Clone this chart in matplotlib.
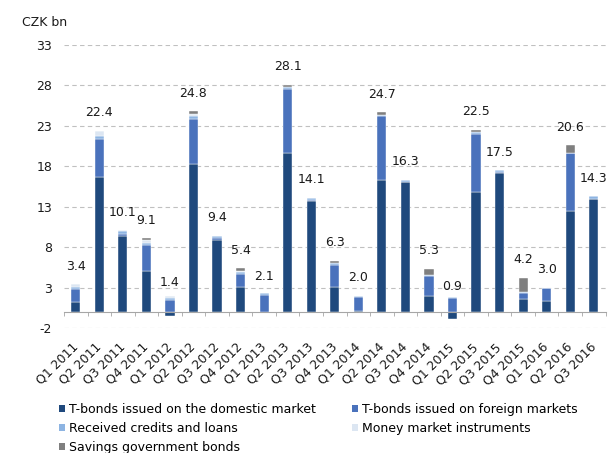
import numpy as np
import matplotlib.pyplot as plt
from matplotlib.patches import Patch
from matplotlib.ticker import FixedLocator

# Quarters shown on the x axis
quarters = ['Q1 2011', 'Q2 2011', 'Q3 2011', 'Q4 2011',
            'Q1 2012', 'Q2 2012', 'Q3 2012', 'Q4 2012',
            'Q1 2013', 'Q2 2013', 'Q3 2013', 'Q4 2013',
            'Q1 2014', 'Q2 2014', 'Q3 2014', 'Q4 2014',
            'Q1 2015', 'Q2 2015', 'Q3 2015', 'Q4 2015',
            'Q1 2016', 'Q2 2016', 'Q3 2016']

# Components (CZK bn)
domestic = [1.2, 16.7, 9.4, 5.1, -0.5, 18.3, 8.85, 3.1, -0.2, 19.7, 13.7, 3.1,
            0.15, 16.3, 16.0, 2.0, -0.9, 14.8, 17.2, 1.6, 1.35, 12.5, 14.0]
foreign = [1.65, 4.7, 0.25, 3.2, 1.45, 5.6, 0.25, 1.6, 2.05, 7.8, 0.1, 2.65,
           1.65, 7.9, 0.05, 2.45, 1.65, 7.2, 0.05, 0.75, 1.6, 7.1, 0.0]
received = [0.25, 0.35, 0.3, 0.25, 0.3, 0.35, 0.25, 0.2, 0.25, 0.3, 0.3, 0.25,
            0.2, 0.2, 0.25, 0.15, 0.15, 0.2, 0.25, 0.15, 0.05, 0.1, 0.3]
money = [0.3, 0.65, 0.15, 0.3, 0.15, 0.25, 0.05, 0.15, 0.0, 0.05, 0.0, 0.0,
         0.0, 0.0, 0.0, 0.0, 0.0, 0.0, 0.0, 0.0, 0.0, 0.0, 0.0]
savings = [0.0, 0.0, 0.0, 0.25, 0.0, 0.3, 0.0, 0.35, 0.0, 0.25, 0.0, 0.3,
           0.0, 0.3, 0.0, 0.7, 0.0, 0.3, 0.0, 1.7, 0.0, 0.9, 0.0]

# Totals printed above the bars
totals = [3.4, 22.4, 10.1, 9.1, 1.4, 24.8, 9.4, 5.4, 2.1, 28.1, 14.1, 6.3,
          2.0, 24.7, 16.3, 5.3, 0.9, 22.5, 17.5, 4.2, 3.0, 20.6, 14.3]

series = [
    ('T-bonds issued on the domestic market', domestic, '#1f497d'),
    ('T-bonds issued on foreign markets', foreign, '#4a72bc'),
    ('Received credits and loans', received, '#8db4e2'),
    ('Money market instruments', money, '#dce6f2'),
    ('Savings government bonds', savings, '#7f7f7f'),
]

plt.rcParams['font.family'] = 'DejaVu Sans'
plt.rcParams['axes.unicode_minus'] = False

fig = plt.figure(figsize=(6.09, 4.53), dpi=100)
ax = fig.add_axes([64 / 609, 1 - 328 / 453, 541.5 / 609, 283 / 453])

x = np.arange(len(quarters))
pos_bottom = np.zeros(len(quarters))
neg_bottom = np.zeros(len(quarters))
for name, vals, color in series:
    vals = np.array(vals)
    bottom = np.where(vals >= 0, pos_bottom, neg_bottom)
    ax.bar(x, vals, width=0.39, bottom=bottom, color=color,
           edgecolor='white', linewidth=0.3, zorder=3)
    pos_bottom += np.where(vals >= 0, vals, 0)
    neg_bottom += np.where(vals < 0, vals, 0)

# Value labels
for xi, t in zip(x, totals):
    ax.annotate(f'{t:.1f}', xy=(xi, t), xytext=(0, 13), textcoords='offset points',
                ha='center', va='center', fontsize=9, color='#1a1a1a')

ax.set_xlim(-0.5, len(quarters) - 0.5)
ax.set_ylim(-2, 33)
ax.set_yticks(np.arange(-2, 34, 5))
ax.yaxis.grid(True, linestyle=(0, (4, 3)), color='#c0c0c0', linewidth=0.8)
ax.set_axisbelow(True)

for side in ['top', 'right', 'left']:
    ax.spines[side].set_visible(False)
ax.spines['bottom'].set_position(('data', 0))
ax.spines['bottom'].set_color('#a6a6a6')
ax.spines['bottom'].set_zorder(4)

ax.set_xticks(x)
ax.set_xticklabels(quarters, rotation=45, ha='right', va='center',
                   rotation_mode='anchor', fontsize=9, color='#1a1a1a')
ax.xaxis.set_minor_locator(FixedLocator(np.arange(-0.5, len(quarters), 1)))
ax.tick_params(axis='x', which='major', length=0, pad=24)
ax.tick_params(axis='x', which='minor', length=3, color='#a6a6a6', direction='out')
ax.tick_params(axis='y', length=0, pad=8.5, labelsize=9, labelcolor='#1a1a1a')

fig.text(22 / 609, 1 - 22 / 453, 'CZK bn', ha='left', va='center',
         fontsize=9, color='#1a1a1a')

# Legend, filled row by row like the original
handles = [Patch(facecolor=c, label=n) for n, _, c in series]
order = [0, 2, 4, 1, 3]
ax.legend([handles[i] for i in order], [handles[i].get_label() for i in order],
          ncol=2, loc='upper left', bbox_to_anchor=(59 / 609, 1 - 403 / 453),
          bbox_transform=fig.transFigure, frameon=False, fontsize=9,
          handlelength=0.5, handleheight=0.5, handletextpad=0.3,
          labelspacing=0.48, columnspacing=2.9, borderpad=0, borderaxespad=0)

plt.savefig('out.png', dpi=100)
